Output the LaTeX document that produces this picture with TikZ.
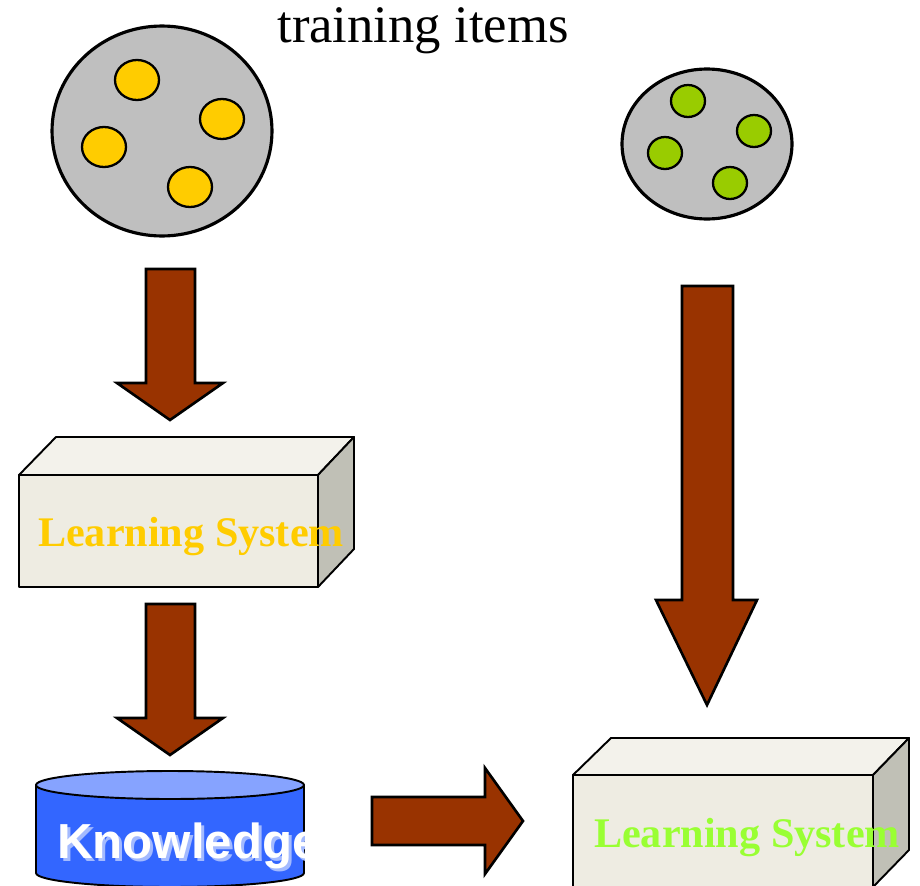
\documentclass[tikz,border=0pt]{standalone}
\usepackage{fontspec}
\usetikzlibrary{shapes.geometric}
\setmainfont{Liberation Serif}
\newfontfamily\arialfont{Liberation Sans}
\definecolor{gold}{HTML}{FFCC00}
\definecolor{lime}{HTML}{99CC00}
\definecolor{brick}{HTML}{993300}
\definecolor{boxfront}{HTML}{EEECE2}
\definecolor{boxside}{HTML}{C0C0B6}
\definecolor{dbblue}{HTML}{3366FF}
\definecolor{dbtop}{HTML}{86A3FF}
\definecolor{lsgreen}{HTML}{99FF33}
\tikzset{
  pool/.style={draw, ellipse, fill=black!25, line width=1.8pt},
  dot/.style={draw, ellipse, line width=1.3pt, inner sep=0pt},
  barrow/.style={draw, fill=brick, line width=1.5pt, line join=miter},
  face/.style={draw, line width=1.1pt, line join=round},
  lslabel/.style={font=\fontsize{24}{28}\selectfont\bfseries},
}
\begin{document}
\begin{tikzpicture}[x=0.02cm, y=-0.02cm]
\useasboundingbox (0,0) rectangle (920,886);
\clip (0,0) rectangle (920,886);
% title
\node (title) at (423,31) {\fontsize{30}{34}\selectfont training items};
% training pool
\node[pool, minimum width=4.4cm, minimum height=4.2cm] (train) at (162,131) {};
\node[dot, fill=gold, minimum width=0.88cm, minimum height=0.8cm] (t1) at (137,80) {};
\node[dot, fill=gold, minimum width=0.88cm, minimum height=0.8cm] (t2) at (222,119) {};
\node[dot, fill=gold, minimum width=0.88cm, minimum height=0.8cm] (t3) at (104,147) {};
\node[dot, fill=gold, minimum width=0.88cm, minimum height=0.8cm] (t4) at (190,187) {};
% test pool
\node[pool, minimum width=3.4cm, minimum height=3.0cm] (test) at (707,144) {};
\node[dot, fill=lime, minimum width=0.68cm, minimum height=0.64cm] (g1) at (688,101) {};
\node[dot, fill=lime, minimum width=0.68cm, minimum height=0.64cm] (g2) at (754,131) {};
\node[dot, fill=lime, minimum width=0.68cm, minimum height=0.64cm] (g3) at (665,153) {};
\node[dot, fill=lime, minimum width=0.68cm, minimum height=0.64cm] (g4) at (730,183) {};
% arrows
\draw[barrow] (146,269) -- (195,269) -- (195,383) -- (223,383) -- (170,420) -- (117,383) -- (146,383) -- cycle;
\draw[barrow] (146,604) -- (195,604) -- (195,718) -- (223,718) -- (170,755) -- (117,718) -- (146,718) -- cycle;
\draw[barrow] (682,286) -- (733,286) -- (733,600) -- (757,600) -- (707,705) -- (656,600) -- (682,600) -- cycle;
\draw[barrow] (372,797) -- (485,797) -- (485,768) -- (523,821) -- (485,874) -- (485,845) -- (372,845) -- cycle;
% first learning system
\draw[face, fill=boxfront] (19,475) rectangle (318,587);
\draw[face, fill=boxfront!70!white] (19,475) -- (56,437) -- (354,437) -- (318,475) -- cycle;
\draw[face, fill=boxside] (318,475) -- (354,437) -- (354,549) -- (318,587) -- cycle;
\node[lslabel, text=gold] (ls1) at (191,537) {Learning System};
% knowledge base
\draw[face, fill=dbblue] (36,785) -- (36,873) arc[start angle=180, end angle=360, x radius=134, y radius=-14] -- (304,785) -- cycle;
\draw[face, fill=dbtop] (170,785) ellipse [x radius=134, y radius=14];
\begin{scope}
\clip (36,799) rectangle (304,900);
\node[anchor=base west, text=white!55!dbblue, inner sep=0pt] at (60,861) {\arialfont\bfseries\fontsize{28}{32}\selectfont Knowledge};
\node[anchor=base west, text=white, inner sep=0pt] (know) at (57,858) {\arialfont\bfseries\fontsize{28}{32}\selectfont Knowledge};
\end{scope}
% second learning system
\draw[face, fill=boxfront] (573,775) rectangle (873,900);
\draw[face, fill=boxfront!70!white] (573,775) -- (611,738) -- (909,738) -- (873,775) -- cycle;
\draw[face, fill=boxside] (873,775) -- (909,738) -- (909,850) -- (873,887) -- cycle;
\node[lslabel, text=lsgreen] (ls2) at (747,838) {Learning System};
\end{tikzpicture}
\end{document}
